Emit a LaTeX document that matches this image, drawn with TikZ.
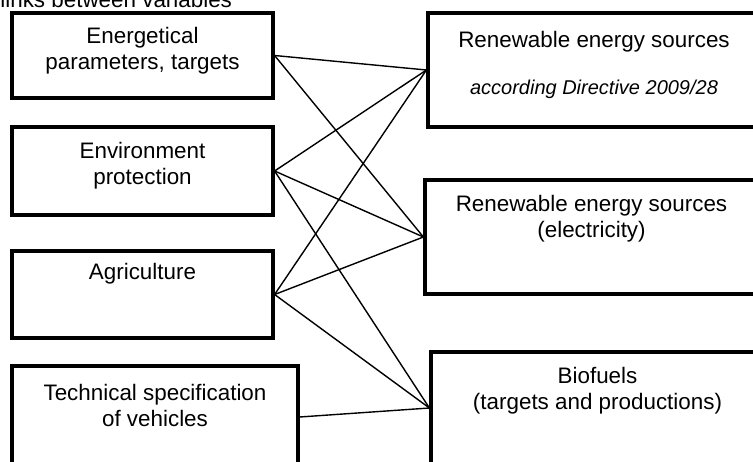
\documentclass[tikz,border=0pt]{standalone}
\usepackage{fontspec}
\setmainfont{Liberation Sans}
\usetikzlibrary{positioning}

\tikzset{
    box/.style={draw, line width=1.6pt, inner sep=0pt},
    txt/.style={align=center, inner sep=0pt, font=\fontsize{11.2pt}{13.2pt}\selectfont},
    link/.style={line width=0.7pt}
}

\begin{document}
\begin{tikzpicture}[x=0.5pt,y=-0.5pt]
        \useasboundingbox (0,0) rectangle (753,461);
        \node[txt, anchor=base west] (title) at (0,7) {links between variables};
        % left column
        \node[box, minimum width=130.5pt, minimum height=42.5pt] (energy) at (142.5,55.5) {};
        \node[box, minimum width=130.5pt, minimum height=44pt] (env) at (142.5,171) {};
        \node[box, minimum width=130.5pt, minimum height=43.5pt] (agri) at (142.5,294.5) {};
        \node[box, minimum width=143pt, minimum height=51pt] (tech) at (155,417) {};
        \node[txt, below=7.5pt of energy.north] (energytxt) {Energetical\\parameters, targets};
        \node[txt, below=8pt of env.north] (envtxt) {Environment\\protection};
        \node[txt, below=6.5pt of agri.north] (agritxt) {Agriculture};
        \node[txt, below=9.5pt of tech.north] (techtxt) {Technical specification\\of vehicles};
        % right column
        \node[box, minimum width=166pt, minimum height=57pt] (resdir) at (594,70) {};
        \node[box, minimum width=166.5pt, minimum height=57pt] (reselec) at (591.5,237) {};
        \node[box, minimum width=166.5pt, minimum height=56pt] (biofuel) at (597.5,408) {};
        \node[txt, below=9.5pt of resdir.north] (resdirtxt) {Renewable energy sources\\[10.5pt]{\fontsize{10pt}{12pt}\selectfont\itshape according Directive 2009/28}};
        \node[txt, below=8pt of reselec.north] (reselectxt) {Renewable energy sources\\(electricity)};
        \node[txt, below=8pt of biofuel.north] (biofueltxt) {Biofuels\\(targets and productions)};
        % links
        \foreach \a/\b in {energy/resdir, energy/reselec, env/resdir, env/reselec, env/biofuel,
                agri/resdir, agri/reselec, agri/biofuel, tech/biofuel}
            \draw[link] (\a.east) -- (\b.west);
\end{tikzpicture}
\end{document}
